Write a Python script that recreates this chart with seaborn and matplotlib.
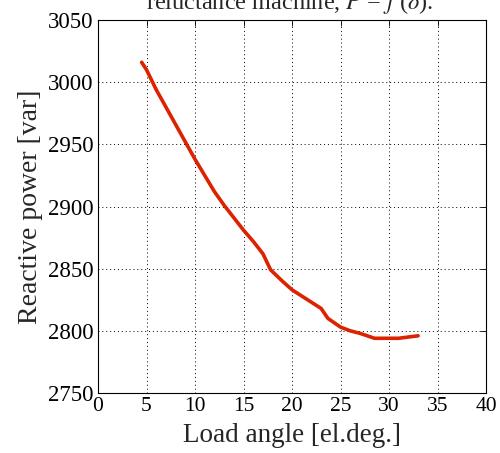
import matplotlib
matplotlib.use("Agg")
import matplotlib.pyplot as plt
import seaborn as sns
import pandas as pd

load_angle = [4.5, 5, 6, 7, 8, 9, 10, 11, 12, 13, 14, 15, 16, 17, 17.8, 19, 20,
              21, 22, 23, 23.7, 25, 26, 27, 28.5, 30, 31, 32, 33]
reactive_power = [3016, 3010, 2994, 2980, 2966, 2952, 2938, 2925, 2912, 2901, 2891,
                  2881, 2872, 2862, 2849, 2840, 2833, 2828, 2823, 2818, 2810, 2803,
                  2800, 2798, 2794, 2794, 2794, 2795, 2796]
x_ticks = [0, 5, 10, 15, 20, 25, 30, 35, 40]
y_ticks = [2750, 2800, 2850, 2900, 2950, 3000, 3050]

sns.set_theme(style="white")
plt.rcParams['font.family'] = ['Liberation Serif', 'DejaVu Serif']
plt.rcParams['mathtext.fontset'] = 'stix'

df = pd.DataFrame({"angle": load_angle, "Q": reactive_power})

fig = plt.figure(figsize=(5.0, 4.53), dpi=100)
ax = fig.add_axes([0.196, 0.1325, 0.776, 0.8233])
sns.lineplot(data=df, x="angle", y="Q", ax=ax, color="#DD2200", linewidth=2.6)

ax.set_xlim(0, 40)
ax.set_ylim(2750, 3050)
ax.set_xticks(x_ticks)
ax.set_yticks(y_ticks)
ax.tick_params(direction="in", length=4, width=0.6, top=True, right=True,
               colors="black", pad=3)
ax.tick_params(axis="x", labelsize=15.5)
ax.tick_params(axis="y", labelsize=16.5)
ax.grid(True, linestyle=(0, (1, 3)), color="black", linewidth=0.7)
for s in ax.spines.values():
    s.set_color("black")
    s.set_linewidth(0.8)
ax.set_xlabel("Load angle [el.deg.]", fontsize=19.5, labelpad=5)
ax.set_ylabel("Reactive power [var]", fontsize=20, labelpad=4)
fig.text(0.58, 0.980, r"reluctance machine, $P$ = $f$ ($\delta$).", fontsize=17.5,
         ha="center", va="baseline")

fig.savefig("out.png", dpi=100)
